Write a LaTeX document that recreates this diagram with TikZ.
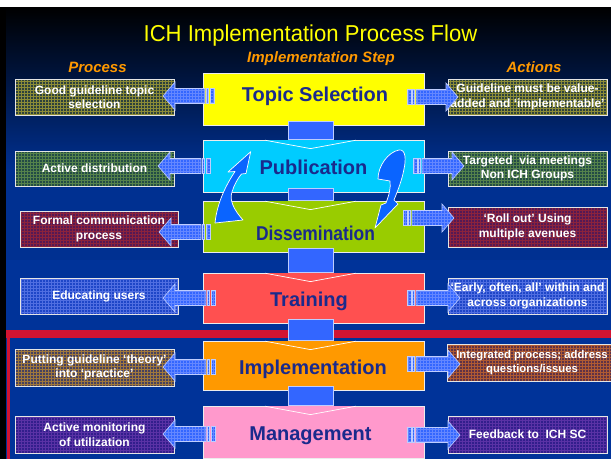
\documentclass[tikz,border=0pt]{standalone}
\usepackage{fontspec}
\setmainfont{Liberation Sans}
\usetikzlibrary{calc,patterns}
\definecolor{navyA}{RGB}{0,48,145}
\definecolor{navyB}{RGB}{0,51,153}
\definecolor{navyM}{RGB}{0,18,75}
\definecolor{titleY}{RGB}{255,255,0}
\definecolor{hdrO}{RGB}{255,153,0}
\definecolor{mtext}{RGB}{26,42,140}
\definecolor{arrB}{RGB}{51,102,255}
\definecolor{arrBl}{RGB}{100,135,255}
\definecolor{arrEdge}{RGB}{190,205,255}
\definecolor{curB}{RGB}{10,100,255}
\definecolor{redband}{RGB}{210,20,50}
\definecolor{cTopic}{RGB}{255,255,0}
\definecolor{cPub}{RGB}{0,204,255}
\definecolor{cDis}{RGB}{153,204,0}
\definecolor{cTrain}{RGB}{255,80,80}
\definecolor{cImpl}{RGB}{255,153,0}
\definecolor{cMgmt}{RGB}{255,153,204}
\definecolor{sOlB}{RGB}{45,65,60}   \definecolor{sOlG}{RGB}{140,140,55}
\definecolor{sGrB}{RGB}{35,75,70}   \definecolor{sGrG}{RGB}{85,130,75}
\definecolor{sRdB}{RGB}{85,25,85}   \definecolor{sRdG}{RGB}{140,35,60}
\definecolor{sBlB}{RGB}{30,70,200}  \definecolor{sBlG}{RGB}{80,110,225}
\definecolor{sBrB}{RGB}{70,65,95}   \definecolor{sBrG}{RGB}{160,120,60}
\definecolor{sBrBb}{RGB}{95,50,70}  \definecolor{sBrGb}{RGB}{175,90,50}
\definecolor{sInB}{RGB}{50,30,140}  \definecolor{sInG}{RGB}{90,50,165}
\tikzset{
  mainbox/.style={draw={white!85!gray}, line width=0.8pt, minimum width=221pt, inner sep=0pt},
  sidebox/.style 2 args={draw={white!80!gray}, line width=0.7pt, minimum width=159pt,
    inner sep=1pt, align=center, text=white,
    font=\fontsize{12}{14.5}\selectfont\bfseries,
    preaction={fill=#1}, pattern=grid, pattern color=#2},
  mainlbl/.style={font=\fontsize{20}{24}\selectfont\bfseries, text=mtext, anchor=base, inner sep=0pt},
  hdr/.style={font=\fontsize{15}{18}\selectfont\bfseries\itshape, text=hdrO, anchor=base, inner sep=0pt},
  sarrow/.style={draw=arrEdge, line width=0.6pt, preaction={fill=arrB}, pattern=grid, pattern color=arrBl},
  shaft/.style={fill=arrB, draw=arrEdge, line width=0.6pt},
  chev/.style={draw=white, line width=0.7pt},
  curvearr/.style={fill=curB, draw=white, line width=0.7pt, line join=round},
}
\newcommand\sideL[3]{% tip x, tail x, centre y
  \path[sarrow] (#1,#3) -- ({#1+12},{#3-14}) -- ({#1+12},{#3-7.5}) -- ({#2-9},{#3-7.5}) -- ({#2-9},{#3+7.5}) -- ({#1+12},{#3+7.5}) -- ({#1+12},{#3+14}) -- cycle;
  \path[sarrow] ({#2-7.5},{#3-7.5}) rectangle ({#2-5.5},{#3+7.5});
  \path[sarrow] ({#2-4},{#3-7.5}) rectangle (#2,{#3+7.5});
}
\newcommand\sideR[3]{% tail x, tip x, centre y
  \path[sarrow] (#1,{#3-7.5}) rectangle ({#1+4},{#3+7.5});
  \path[sarrow] ({#1+5.5},{#3-7.5}) rectangle ({#1+7.5},{#3+7.5});
  \path[sarrow] ({#1+9},{#3-7.5}) -- ({#2-12},{#3-7.5}) -- ({#2-12},{#3-14}) -- (#2,#3) -- ({#2-12},{#3+14}) -- ({#2-12},{#3+7.5}) -- ({#1+9},{#3+7.5}) -- cycle;
}
\newcommand\dnarrow[3]{% upper node, lower node, lower colour
  \path[shaft] ($(#1.south)+(-25.5,-4)$) rectangle ($(#2.north)+(19.5,0)$);
  \fill[#3] ($(#2.north)+(-48.5,0.6)$) -- ($(#2.north)+(-3,9)$) -- ($(#2.north)+(42.5,0.6)$) -- cycle;
  \draw[chev] ($(#2.north)+(-48.5,0.6)$) -- ($(#2.north)+(-3,9)$) -- ($(#2.north)+(42.5,0.6)$);
}
\begin{document}
\begin{tikzpicture}[x=1pt,y=-1pt]
\useasboundingbox (0,0) rectangle (611,459);
% background
\fill[white] (0,0) rectangle (611,7);
\shade[top color=black, middle color=navyM, bottom color=navyA] (0,7) rectangle (611,170);
\fill[navyA] (0,170) rectangle (611,260);
\fill[navyB] (0,260) rectangle (611,459);
\fill[black] (0,7) rectangle (6,459);
\fill[redband] (6,330) rectangle (611,337.5);
\fill[redband] (6.5,330) rectangle (9.5,459);
% titles
\node[font=\fontsize{23}{27}\selectfont, text=titleY, anchor=base, inner sep=0pt] (title) at (310.5,41) {\scalebox{0.96}[1]{ICH Implementation Process Flow}};
\node[hdr] (hstep) at (321,62) {Implementation Step};
\node[hdr] (hproc) at (97.5,72) {Process};
\node[hdr] (hact) at (534,72.5) {Actions};
% main boxes
\node[mainbox, fill=cTopic, minimum height=52pt] (ts) at (313.5,99) {};
\node[mainbox, fill=cPub, minimum height=52pt] (pub) at (313.5,166) {};
\node[mainbox, fill=cDis, minimum height=51pt] (dis) at (313.5,226.5) {};
\node[mainbox, fill=cTrain, minimum height=50pt] (tr) at (313.5,298) {};
\node[mainbox, fill=cImpl, minimum height=49pt] (im) at (313.5,365.5) {};
\node[mainbox, fill=cMgmt, minimum height=52pt] (mg) at (313.5,432) {};
% down arrows
\dnarrow{ts}{pub}{cPub}
\dnarrow{pub}{dis}{cDis}
\dnarrow{dis}{tr}{cTrain}
\dnarrow{tr}{im}{cImpl}
\dnarrow{im}{mg}{cMgmt}
% side boxes
\node[sidebox={sOlB}{sOlG}, minimum height=36pt] (l1) at (94.5,97) {Good guideline topic\\selection};
\node[sidebox={sOlB}{sOlG}, minimum height=36pt] (r1) at (527.5,97) {Guideline must be value-\\added and ‘implementable’};
\node[sidebox={sGrB}{sGrG}, minimum height=35pt] (l2) at (94.5,168.5) {Active distribution};
\node[sidebox={sGrB}{sGrG}, minimum height=35pt] (r2) at (527.5,168.5) {Targeted~ via meetings\\Non ICH Groups};
\node[sidebox={sRdB}{sRdG}, minimum height=36pt, minimum width=158pt] (l3) at (99,229) {Formal communication\\process};
\node[sidebox={sRdB}{sRdG}, minimum height=40pt] (r3) at (527.5,227) {‘Roll out’ Using\\multiple avenues};
\node[sidebox={sBlB}{sBlG}, minimum height=36pt, minimum width=158pt] (l4) at (99,296) {Educating users};
\node[sidebox={sBlB}{sBlG}, minimum height=36pt] (r4) at (527.5,296) {‘Early, often, all’ within and\\across organizations};
\node[sidebox={sBrB}{sBrG}, minimum height=37pt] (l5) at (94.5,367.5) {Putting guideline ‘theory’\\into ‘practice’};
\node[sidebox={sBrBb}{sBrGb}, minimum height=37pt, minimum width=170pt, font=\fontsize{11.3}{14.5}\selectfont\bfseries] (r5) at (532,362.5) {Integrated process; address\\questions/issues};
\node[sidebox={sInB}{sInG}, minimum height=37pt] (l6) at (94.5,434.5) {Active monitoring\\of utilization};
\node[sidebox={sInB}{sInG}, minimum height=37pt] (r6) at (527.5,434.5) {Feedback to~ ICH SC};
% side arrows
\sideL{163}{214}{96}
\sideR{407}{458}{97}
\sideL{158}{210}{166}
\sideR{413}{464}{166}
\sideL{159}{210}{232}
\sideR{403}{454}{218}
\sideL{163}{215}{298}
\sideR{407}{460}{298}
\sideL{163}{215}{367}
\sideR{407}{460}{364}
\sideL{163}{215}{434}
\sideR{407}{460}{435}
% curved arrows
\path[curvearr] (250.7,151.7) -- (228,172) -- (235,171.5) .. controls (226,185) and (217,203) .. (215,223) -- (243,220) .. controls (234,210) and (229,200) .. (232,192) .. controls (234,185) and (238,178) .. (241.5,174) -- (246,173.5) -- cycle;
\path[curvearr] (378,179) .. controls (378,166) and (388,152) .. (399,150) .. controls (406,149) and (406,160) .. (404,169) .. controls (402,180) and (398,190) .. (394,200) -- (398,204) -- (375,228) -- (381,205) -- (386,203) .. controls (389,195) and (391,188) .. (390,181) -- cycle;
% main labels
\node[mainlbl] (tsT) at (315,101.5) {Topic Selection};
\node[mainlbl] (pubT) at (313.5,174) {Publication};
\node[mainlbl] (disT) at (315.5,240) {\scalebox{0.87}[1]{Dissemination}};
\node[mainlbl] (trT) at (309,306) {Training};
\node[mainlbl] (imT) at (313,374) {Implementation};
\node[mainlbl] (mgT) at (310.5,440) {Management};
\end{tikzpicture}
\end{document}
